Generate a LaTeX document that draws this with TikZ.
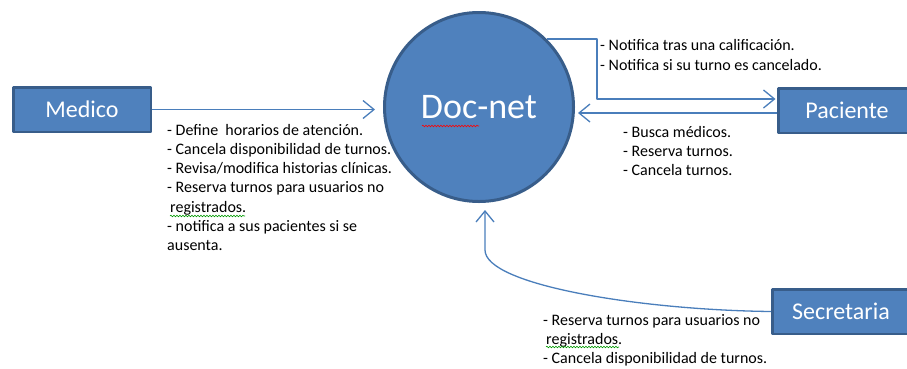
\documentclass[tikz,border=0pt]{standalone}
\usepackage{fontspec}
\setmainfont{Carlito}
\usetikzlibrary{arrows.meta,decorations.pathmorphing}
\definecolor{docblue}{HTML}{4F81BD}
\definecolor{docedge}{HTML}{385D8A}
\definecolor{flowblue}{HTML}{4A7EBB}

\begin{document}
\begin{tikzpicture}[
        x = 1pt, y = -1pt,
        line join=round,
        actor/.style = {rectangle, draw=docedge, fill=docblue, line width=2.5pt, text=white, font=\fontsize{24}{28}\selectfont, inner sep=0pt, minimum width=137.5pt, minimum height=44.5pt},
        flow/.style = {draw=flowblue, line width=1.3pt, -{Straight Barb[length=11pt,width=18pt,line width=1.3pt]}},
        note/.style = {anchor=north west, align=left, inner sep=0pt, font=\fontsize{16}{19.2}\selectfont},
        spell/.style = {decorate, decoration={snake, amplitude=0.8pt, segment length=3pt}, line width=0.6pt}
    ]
        \useasboundingbox (0,0) rectangle (907,368);

        \node[circle, draw=docedge, fill=docblue, line width=3pt, minimum size=189pt, text=white, font=\fontsize{36}{40}\selectfont] (docnet) at (479,107) {\raisebox{-3pt}{Doc-net}};

        \node[actor] (medico) at (82,109.5) {Medico};
        \node[actor] (paciente) at (847,110.5) {Paciente};
        \node[actor] (secretaria) at (841,311.5) {Secretaria};

        \draw[flow, shorten >=8pt] (medico.east) -- (docnet.west |- medico.east);
        \draw[flow, shorten >=1.5pt] (docnet.45) -- ++(50,0) |- ([yshift=11.5pt]paciente.west);
        \coordinate (pin) at ([yshift=-2.5pt]paciente.west);
        \draw[flow, shorten >=3pt] (pin) -- (pin -| docnet.east);
        \draw[flow, shorten >=7pt] (secretaria.west) .. controls (640,310) and (485,285) .. (485,250) -- ([xshift=6pt]docnet.south);

        \node[note] (medicotxt) at (167,124) {- Define\ \ horarios de atención.\\ - Cancela disponibilidad de turnos.\\ - Revisa/modifica historias clínicas.\\ - Reserva turnos para usuarios no\\ \hspace{3pt}registrados.\\ - notifica a sus pacientes si se\\ ausenta.};
        \node[note] (notiftxt) at (600,39.5) {- Notifica tras una calificación.\\ - Notifica si su turno es cancelado.};
        \node[note] (pacientetxt) at (623,126) {- Busca médicos.\\ - Reserva turnos.\\ - Cancela turnos.};
        \node[note] (secretariatxt) at (543,314) {- Reserva turnos para usuarios no\\ \hspace{3pt}registrados.\\ - Cancela disponibilidad de turnos.};

        % spelling marks
        \draw[spell, red] (422,126) -- (479,126);
        \draw[spell, green!60!black] (170,216) -- (245,216);
        \draw[spell, green!60!black] (546,347) -- (619,347);

    \end{tikzpicture}
\end{document}
